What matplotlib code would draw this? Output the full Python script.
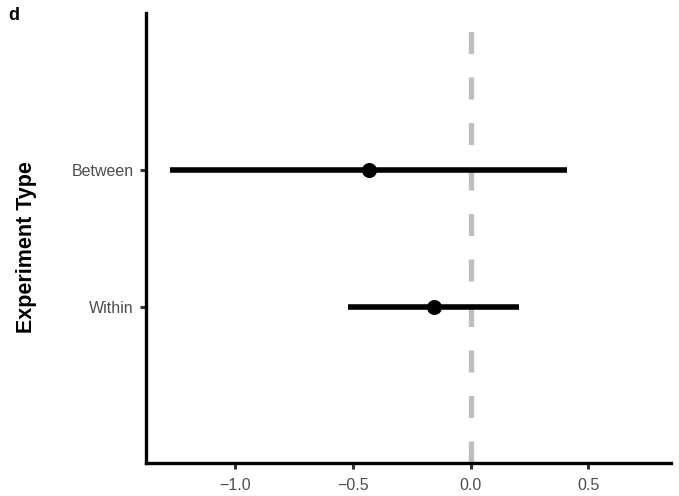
import matplotlib
matplotlib.use("Agg")
import matplotlib.pyplot as plt

# Estimates with intervals per experiment type
categories = ["Within", "Between"]
estimates = [-0.156, -0.432]
lower = [-0.520, -1.277]
upper = [0.207, 0.410]
xticks = [-1.0, -0.5, 0.0, 0.5]
xticklabels = ["\u22121.0", "\u22120.5", "0.0", "0.5"]

plt.rcParams["font.family"] = ["Liberation Sans", "DejaVu Sans"]

fig = plt.figure(figsize=(6.79, 4.96), dpi=100)
ax = fig.add_axes([145.5 / 679, 33 / 496, (671 - 145.5) / 679, (463 - 13) / 496])

ypos = [1, 2]
ax.set_xlim(-1.382, 0.851)
ax.set_ylim(-0.146, 3.153)

# reference line at zero, dashes start from the bottom of the panel
ax.plot([0, 0], [-0.146, 3.153], color="#BEBEBE", lw=3.8,
        dashes=(4.17, 4.45), solid_capstyle="butt", dash_capstyle="butt",
        zorder=1, clip_on=False)

for y, est, lo, hi in zip(ypos, estimates, lower, upper):
    ax.plot([lo, hi], [y, y], color="black", lw=4.0, solid_capstyle="butt", zorder=2)
    ax.plot([est], [y], marker="o", ms=9.8, color="black", zorder=3)

ax.set_yticks(ypos)
ax.set_yticklabels(categories)
ax.set_xticks(xticks)
ax.set_xticklabels(xticklabels)

for side in ["top", "right"]:
    ax.spines[side].set_visible(False)
for side in ["left", "bottom"]:
    ax.spines[side].set_linewidth(2.4)
    ax.spines[side].set_color("black")

ax.tick_params(axis="both", length=4.5, width=2.2, color="#333333",
               labelcolor="#4D4D4D", labelsize=11.5)
ax.tick_params(axis="x", pad=6)
ax.tick_params(axis="y", pad=4)

ax.set_ylabel("Experiment Type", fontsize=15.5, fontweight="bold")
ax.yaxis.set_label_coords(-0.206, 0.48)

fig.text(14 / 679, 1 - 15 / 496, "d", fontsize=13, fontweight="bold",
         ha="center", va="center")

fig.savefig("out.png", dpi=100)
